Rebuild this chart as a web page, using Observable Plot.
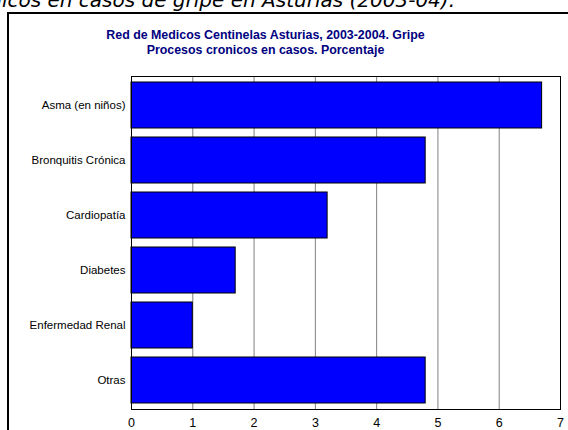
<!DOCTYPE html>
<html>
<head>
<meta charset="utf-8">
<script src="https://cdn.jsdelivr.net/npm/d3@7"></script>
<script src="https://cdn.jsdelivr.net/npm/@observablehq/plot@0.6"></script>
<style>
  html, body { margin: 0; padding: 0; background: #fff; }
  #wrap { position: relative; width: 568px; height: 430px; overflow: hidden; background: #fff; }
  #caption { position: absolute; right: 113px; top: -10px; font: italic 20px "DejaVu Sans", sans-serif; line-height: 20px; white-space: nowrap; color: #000; }
  #frame { position: absolute; left: 7px; top: 12px; width: 700px; height: 700px; border: 2px solid #000; box-sizing: border-box; }
  #title { position: absolute; left: 0; width: 531px; top: 28px; text-align: center; color: #000080; font: bold 12.4px "Liberation Sans", Arial, sans-serif; line-height: 15px; white-space: nowrap; }
  #chart { position: absolute; left: 0; top: 0; }
</style>
</head>
<body>
<div id="wrap">
  <div id="caption">Tabla 5. Procesos crónicos en casos de gripe en Asturias (2003-04).</div>
  <div id="frame"></div>
  <div id="chart"></div>
  <div id="title">Red de Medicos Centinelas Asturias, 2003-2004. Gripe<br>Procesos cronicos en casos. Porcentaje</div>
</div>
<script>
const categories = ["Asma (en niños)", "Bronquitis Crónica", "Cardiopatía", "Diabetes", "Enfermedad Renal", "Otras"];
const values = [6.7, 4.8, 3.2, 1.7, 1.0, 4.8];
const xTicks = [0, 1, 2, 3, 4, 5, 6, 7];
const gridTicks = [1, 2, 3, 4, 5, 6];

const data = categories.map((c, i) => ({category: c, value: values[i]}));

const chart = Plot.plot({
  width: 568,
  height: 430,
  marginLeft: 131,
  marginRight: 8,
  marginTop: 76,
  marginBottom: 21,
  style: {background: "transparent", fontFamily: "'Liberation Sans', Arial, sans-serif", fontSize: "11.5px", color: "#000"},
  x: {domain: [0, 7], ticks: xTicks, tickSize: 0, tickPadding: 9, label: null, tickFormat: d3.format("d")},
  y: {domain: categories, paddingInner: 0.16, paddingOuter: 0.08, tickSize: 0, tickPadding: 6, label: null},
  marks: [
    Plot.gridX(gridTicks, {stroke: "#808080", strokeOpacity: 1}),
    Plot.barX(data, {x: "value", y: "category", fill: "#0000FF", stroke: "#000", strokeWidth: 1}),
    Plot.frame({stroke: "#000"}),
    Plot.axisX({ticks: xTicks, tickSize: 0, tickPadding: 9, fontSize: 12.5, tickFormat: d3.format("d"), label: null})
  ]
});
document.getElementById("chart").appendChild(chart);
</script>
</body>
</html>
